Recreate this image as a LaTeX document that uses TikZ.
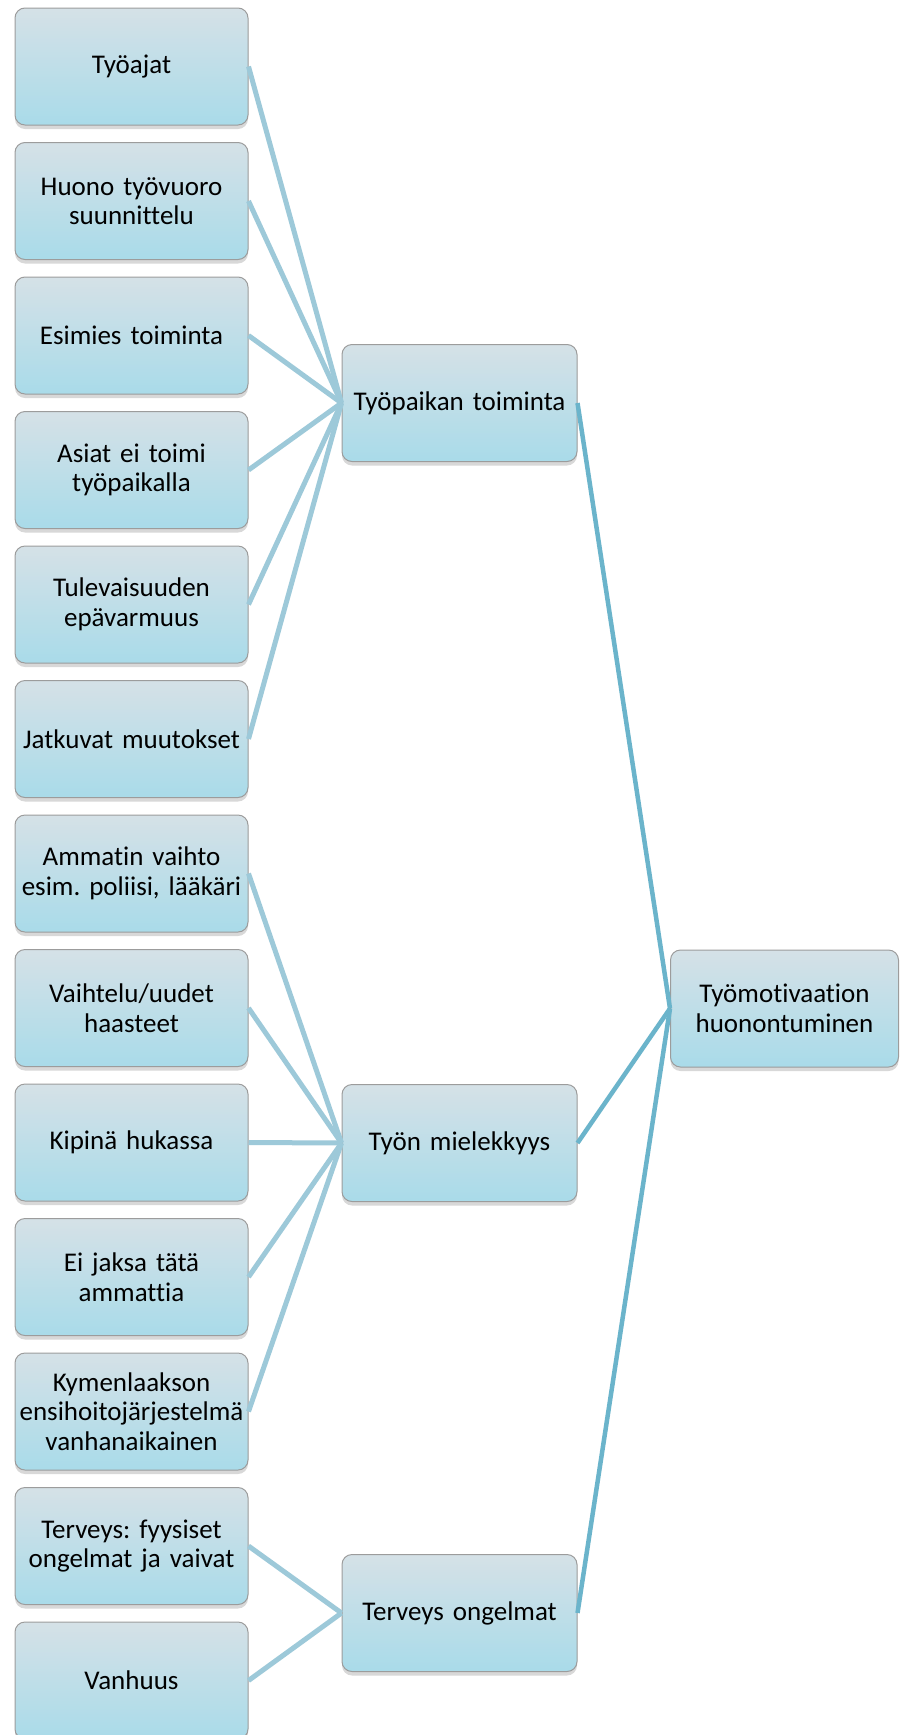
\documentclass[tikz,border=0pt]{standalone}
\usepackage{fontspec}
\setmainfont{Carlito}[RawFeature={-liga;-dlig}, WordSpace=0.8]
\frenchspacing
\usetikzlibrary{shadows}
\definecolor{boxtop}{HTML}{D5E1E7}
\definecolor{boxbot}{HTML}{A9DBE9}
\definecolor{boxline}{HTML}{9C9C9C}
\definecolor{linklight}{HTML}{9DC9D9}
\definecolor{linkdark}{HTML}{6BB4CB}
\tikzset{
  cbox/.style={draw=boxline, line width=1pt, rounded corners=10pt,
    top color=boxtop, bottom color=boxbot,
    drop shadow={shadow xshift=0pt, shadow yshift=-4pt, opacity=0.25, fill=black!60},
    minimum height=117pt, align=center, inner sep=2pt,
    font=\fontsize{27}{29.5}\selectfont, text=black},
  leafbox/.style={cbox, minimum width=233pt, text width=229pt},
  midbox/.style={cbox, minimum width=235pt, text width=231pt},
  rootbox/.style={cbox, minimum width=228pt, text width=224pt},
  lightlink/.style={draw=linklight, line width=5pt},
  darklink/.style={draw=linkdark, line width=4.5pt},
}
\begin{document}
\begin{tikzpicture}[x=1pt, y=-1pt]
\useasboundingbox (0,0) rectangle (900,1735);
\fill[white] (0,0) rectangle (900,1735);

% leaf causes
\node[leafbox] (l1)  at (131.5, 66.5)   {Työajat};
\node[leafbox] (l2)  at (131.5, 201)    {Huono työvuoro\\suunnittelu};
\node[leafbox] (l3)  at (131.5, 335.5)  {Esimies toiminta};
\node[leafbox] (l4)  at (131.5, 470)    {Asiat ei toimi\\työpaikalla};
\node[leafbox] (l5)  at (131.5, 604.5)  {Tulevaisuuden\\epävarmuus};
\node[leafbox] (l6)  at (131.5, 739)    {Jatkuvat muutokset};
\node[leafbox] (l7)  at (131.5, 873.5)  {Ammatin vaihto\\esim. poliisi, lääkäri};
\node[leafbox] (l8)  at (131.5, 1008)   {Vaihtelu/uudet\\haasteet};
\node[leafbox] (l9)  at (131.5, 1142.5) {Kipinä hukassa};
\node[leafbox] (l10) at (131.5, 1277)   {Ei jaksa tätä\\ammattia};
\node[leafbox] (l11) at (131.5, 1411.5) {Kymenlaakson\\ensihoitojärjestelmä\\vanhanaikainen};
\node[leafbox] (l12) at (131.5, 1546)   {Terveys: fyysiset\\ongelmat ja vaivat};
\node[leafbox] (l13) at (131.5, 1680.5) {Vanhuus};

% intermediate groups
\node[midbox] (m1) at (459.5, 403)  {Työpaikan toiminta};
\node[midbox] (m2) at (459.5, 1143) {Työn mielekkyys};
\node[midbox] (m3) at (459.5, 1613) {Terveys ongelmat};

% root
\node[rootbox] (r) at (784.5, 1008.5) {Työmotivaation\\huonontuminen};

% links leaf -> group
\foreach \i in {1,...,6} \draw[lightlink] (l\i.east) -- (m1.west);
\foreach \i in {7,...,11} \draw[lightlink] (l\i.east) -- (m2.west);
\foreach \i in {12,13} \draw[lightlink] (l\i.east) -- (m3.west);

% links group -> root
\foreach \i in {1,2,3} \draw[darklink] (m\i.east) -- (r.west);
\end{tikzpicture}
\end{document}
